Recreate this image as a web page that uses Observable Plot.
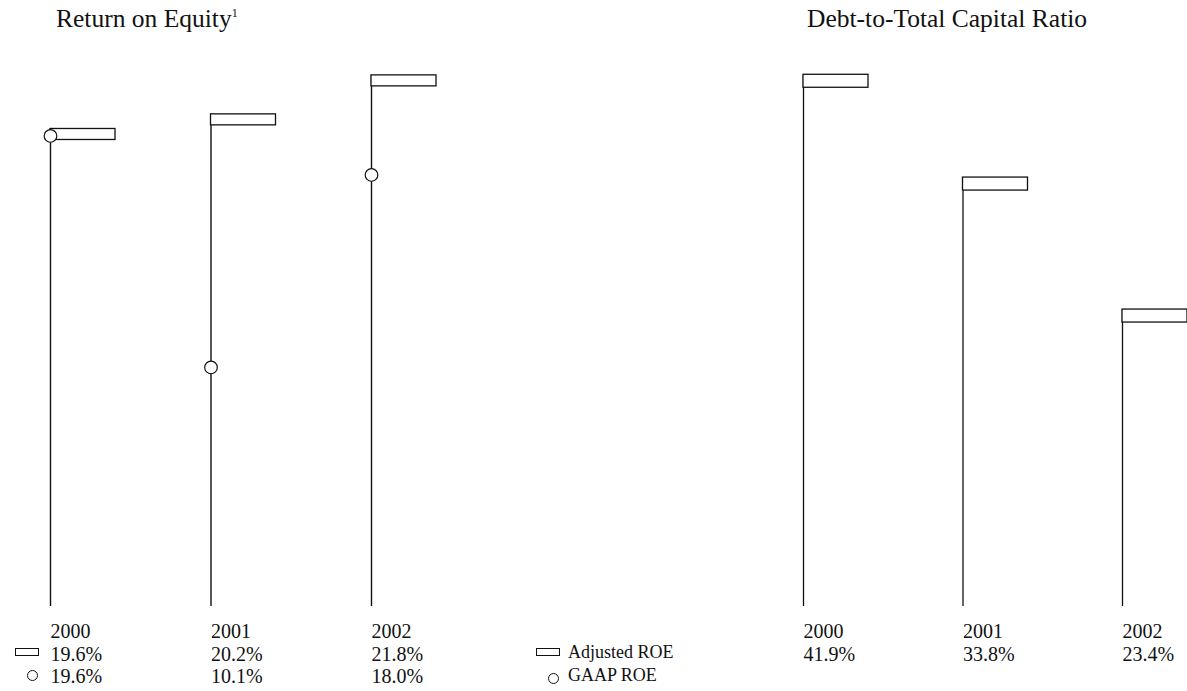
<!DOCTYPE html>
<html>
<head>
<meta charset="utf-8">
<script src="https://cdn.jsdelivr.net/npm/d3@7"></script>
<script src="https://cdn.jsdelivr.net/npm/@observablehq/plot@0.6"></script>
<style>
  html, body { margin: 0; padding: 0; background: #fff; }
  body { width: 1187px; height: 691px; position: relative; overflow: hidden; font-family: "Liberation Serif", "DejaVu Serif", serif; color: #111; }
  .panel { position: absolute; top: 0; }
  .title { position: absolute; font-size: 25.5px; line-height: 25px; white-space: nowrap; }
  .title sup { font-size: 12px; vertical-align: 0; position: relative; top: -10px; }
  .icon-rect { position: absolute; border: 1.3px solid #111; box-sizing: border-box; background: #fff; }
  .icon-circ { position: absolute; border: 1.2px solid #111; border-radius: 50%; box-sizing: border-box; background: #fff; }
  .legtext { position: absolute; font-size: 18px; line-height: 18px; white-space: nowrap; }
</style>
</head>
<body>
<div class="title" style="left:56px; top:6px;">Return on Equity<sup>1</sup></div>
<div class="title" style="left:807px; top:6px;">Debt-to-Total Capital Ratio</div>

<div id="left" class="panel" style="left:0px;"></div>
<div id="right" class="panel" style="left:740px;"></div>

<!-- row keys -->
<div class="icon-rect" style="left:15px; top:648px; width:24px; height:8px;"></div>
<div class="icon-circ" style="left:26.5px; top:669.5px; width:11px; height:11px;"></div>

<!-- legend -->
<div class="icon-rect" style="left:536px; top:648px; width:24px; height:8px;"></div>
<div class="legtext" style="left:568px; top:643px;">Adjusted ROE</div>
<div class="icon-circ" style="left:547.5px; top:672.5px; width:11px; height:11px;"></div>
<div class="legtext" style="left:568px; top:666px;">GAAP ROE</div>

<script>
// ---- data ----
const years = [2000, 2001, 2002];
const adjustedROE = [19.6, 20.2, 21.8];
const gaapROE = [19.6, 10.1, 18.0];
const debtToCapital = [41.9, 33.8, 23.4];

const roe = years.map((year, i) => ({year, adjusted: adjustedROE[i], gaap: gaapROE[i]}));
const debt = years.map((year, i) => ({year, value: debtToCapital[i]}));

const fmt = v => v.toFixed(1) + "%";
const ink = "#111";
const font = "'Liberation Serif', 'DejaVu Serif', serif";

// ---- left panel: Return on Equity ----
const left = Plot.plot({
  width: 720,
  height: 691,
  marginLeft: 50,
  marginRight: 349,
  marginTop: 70,
  marginBottom: 85,
  style: {fontFamily: font, color: ink, background: "transparent", overflow: "visible"},
  x: {domain: [2000, 2002], axis: null},
  y: {domain: [0, 22], axis: null},
  marks: [
    Plot.ruleX(roe, {x: "year", y1: 0, y2: "adjusted", stroke: ink, strokeWidth: 1.4}),
    Plot.rect(roe, {x1: "year", x2: "year", y1: "adjusted", y2: "adjusted",
      insetRight: -65, insetBottom: -11, fill: "#fff", stroke: ink, strokeWidth: 1.3}),
    Plot.dot(roe, {x: "year", y: "gaap", r: 6.3, dy: 7, fill: "#fff", stroke: ink, strokeWidth: 1.2}),
    Plot.text(roe, {x: "year", frameAnchor: "bottom", text: d => String(d.year), textAnchor: "start",
      lineAnchor: "bottom", dy: 31, fontSize: 20, fill: ink}),
    Plot.text(roe, {x: "year", frameAnchor: "bottom", text: d => fmt(d.adjusted), textAnchor: "start",
      lineAnchor: "bottom", dy: 54, fontSize: 20, fill: ink}),
    Plot.text(roe, {x: "year", frameAnchor: "bottom", text: d => fmt(d.gaap), textAnchor: "start",
      lineAnchor: "bottom", dy: 76, fontSize: 20, fill: ink})
  ]
});
document.getElementById("left").append(left);

// ---- right panel: Debt-to-Total Capital Ratio ----
const right = Plot.plot({
  width: 447,
  height: 691,
  marginLeft: 63,
  marginRight: 65,
  marginTop: 73,
  marginBottom: 85,
  style: {fontFamily: font, color: ink, background: "transparent", overflow: "visible"},
  x: {domain: [2000, 2002], axis: null},
  y: {domain: [0, 42], axis: null},
  marks: [
    Plot.ruleX(debt, {x: "year", y1: 0, y2: "value", stroke: ink, strokeWidth: 1.3}),
    Plot.rect(debt, {x1: "year", x2: "year", y1: "value", y2: "value",
      insetRight: -65, insetBottom: -13, fill: "#fff", stroke: ink, strokeWidth: 1.3}),
    Plot.text(debt, {x: "year", frameAnchor: "bottom", text: d => String(d.year), textAnchor: "start",
      lineAnchor: "bottom", dy: 31, fontSize: 20, fill: ink}),
    Plot.text(debt, {x: "year", frameAnchor: "bottom", text: d => fmt(d.value), textAnchor: "start",
      lineAnchor: "bottom", dy: 54, fontSize: 20, fill: ink})
  ]
});
document.getElementById("right").append(right);
</script>
</body>
</html>
